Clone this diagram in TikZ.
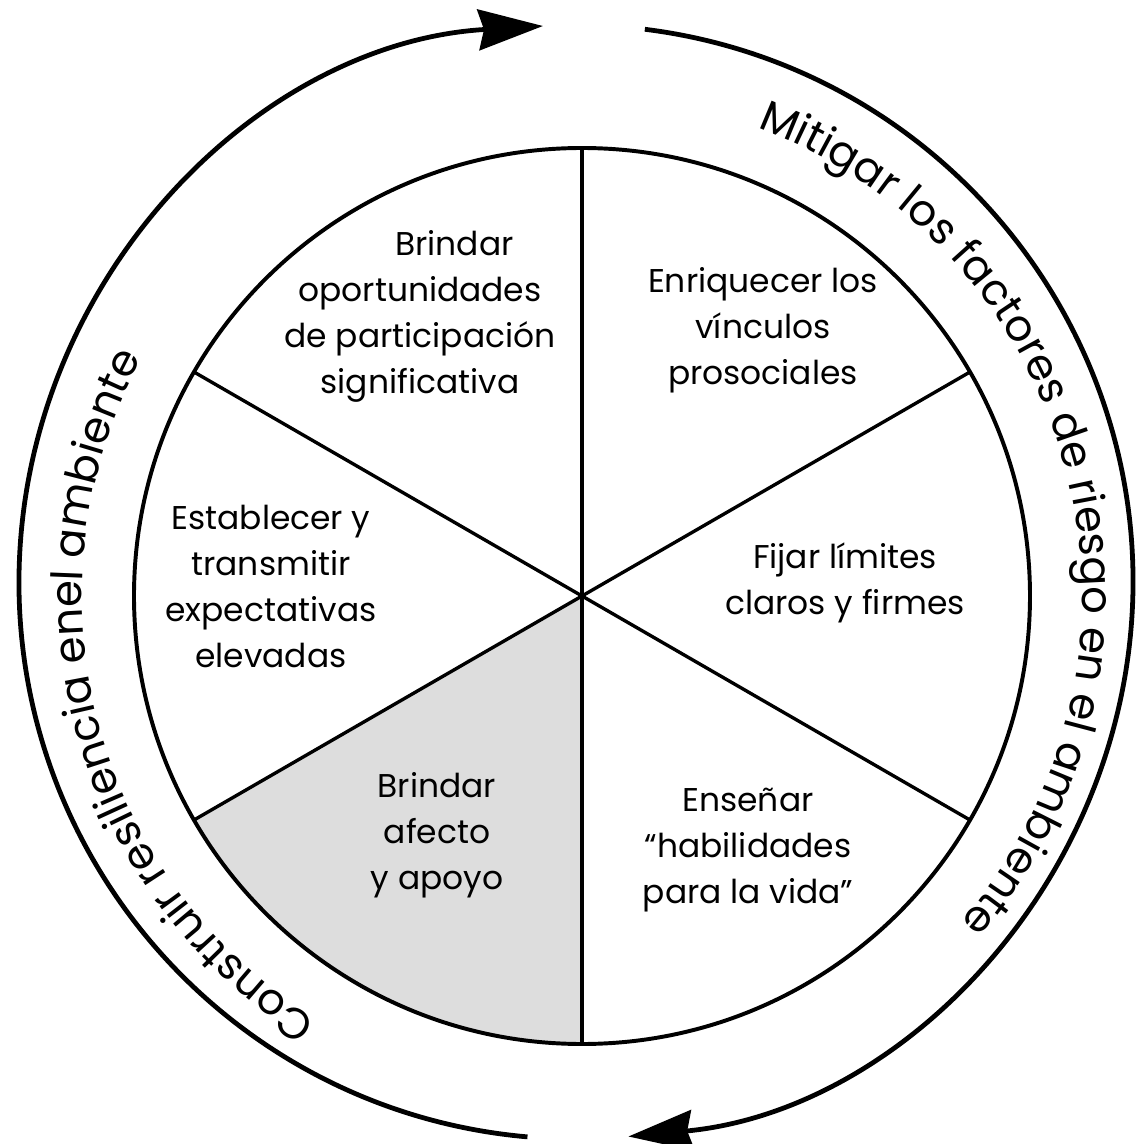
\documentclass[tikz,border=0pt]{standalone}
\usepackage{fontspec}
\setmainfont{Poppins}
\usetikzlibrary{arrows.meta,decorations.text}
\definecolor{sectorgray}{RGB}{221,221,221}
\newcommand{\ringfont}{\fontsize{30.8}{36}\selectfont}
\newcommand{\cellfont}{\fontsize{23.4}{32.7}\selectfont}

\begin{document}
\begin{tikzpicture}[x=0.025cm,y=0.025cm,
  cell/.style={align=center,font=\cellfont,text=black},
  spoke/.style={line width=2.4pt},
  rim/.style={line width=2.8pt},
  ringarrow/.style={line width=3.4pt,-{Stealth[length=46pt,width=29pt,inset=4pt]}}]
  \useasboundingbox (-582,-548) rectangle (556,596);
  \coordinate (ctr) at (0,0);

  % shaded sector
  \fill[sectorgray] (ctr) -- (210:448) arc[start angle=210,end angle=270,radius=448] -- cycle;
  \foreach \a in {30,90,150,210,270,330}
    \draw[spoke] (ctr) -- (\a:448);
  \draw[rim] (ctr) circle[radius=448];

  % sector texts
  \node[cell] (oportun) at (-162,280) {\hspace*{2.1em}Brindar\\oportunidades\\de participación\\significativa};
  \node[cell] (vinculos) at (181,266) {Enriquecer los\\vínculos\\prosociales};
  \node[cell] (expect) at (-311,10) {Establecer y\\transmitir\\expectativas\\elevadas};
  \node[cell] (limites) at (263,13) {Fijar límites\\claros y firmes};
  \node[cell] (afecto) at (-145,-239) {Brindar\\afecto\\y apoyo};
  \node[cell] (habil) at (166,-254) {Enseñar\\“habilidades\\para la vida”};

  % ring texts
  \path[decorate,decoration={text along path,
    text={|\ringfont|Mitigar los factores de riesgo en el ambiente}}]
    (69.5:500) arc[start angle=69.5,end angle=-60,radius=500];
  \path[decorate,decoration={text along path,
    text={|\ringfont|Construir resiliencia enel ambiente}}]
    (238:500) arc[start angle=238,end angle=140,radius=500];

  % outer arrows
  \begin{scope}[shift={(-6,14)}]
    \draw[ringarrow] (82.9:557) arc[start angle=82.9,end angle=-84.6,radius=557];
    \draw[ringarrow] (265:557) arc[start angle=265,end angle=93.4,radius=557];
  \end{scope}
\end{tikzpicture}
\end{document}
